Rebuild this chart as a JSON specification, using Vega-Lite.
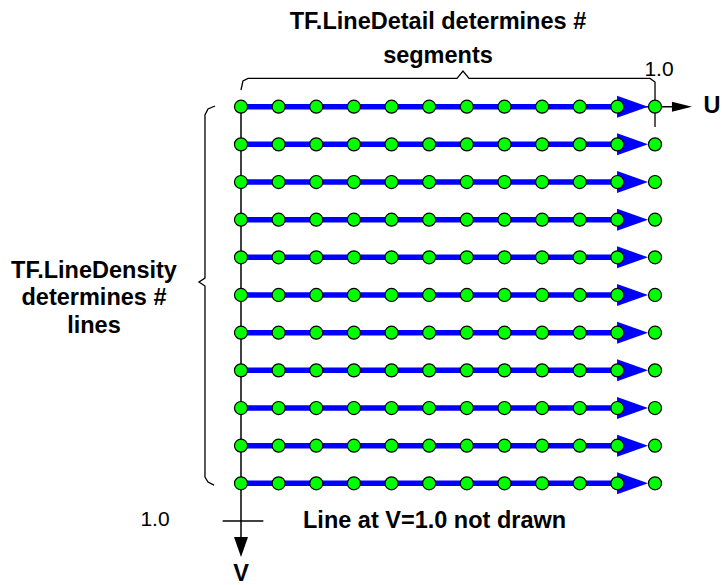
{
  "$schema": "https://vega.github.io/schema/vega-lite/v6.json",
  "width": 722,
  "height": 585,
  "autosize": {"type": "none"},
  "padding": 0,
  "background": "white",
  "config": {"view": {"stroke": null}},
  "datasets": {
    "rows": [
      {"v": 0, "u": [0, 0.0909, 0.1818, 0.2727, 0.3636, 0.4545, 0.5455, 0.6364, 0.7273, 0.8182, 0.9091, 1]},
      {"v": 0.0909, "u": [0, 0.0909, 0.1818, 0.2727, 0.3636, 0.4545, 0.5455, 0.6364, 0.7273, 0.8182, 0.9091, 1]},
      {"v": 0.1818, "u": [0, 0.0909, 0.1818, 0.2727, 0.3636, 0.4545, 0.5455, 0.6364, 0.7273, 0.8182, 0.9091, 1]},
      {"v": 0.2727, "u": [0, 0.0909, 0.1818, 0.2727, 0.3636, 0.4545, 0.5455, 0.6364, 0.7273, 0.8182, 0.9091, 1]},
      {"v": 0.3636, "u": [0, 0.0909, 0.1818, 0.2727, 0.3636, 0.4545, 0.5455, 0.6364, 0.7273, 0.8182, 0.9091, 1]},
      {"v": 0.4545, "u": [0, 0.0909, 0.1818, 0.2727, 0.3636, 0.4545, 0.5455, 0.6364, 0.7273, 0.8182, 0.9091, 1]},
      {"v": 0.5455, "u": [0, 0.0909, 0.1818, 0.2727, 0.3636, 0.4545, 0.5455, 0.6364, 0.7273, 0.8182, 0.9091, 1]},
      {"v": 0.6364, "u": [0, 0.0909, 0.1818, 0.2727, 0.3636, 0.4545, 0.5455, 0.6364, 0.7273, 0.8182, 0.9091, 1]},
      {"v": 0.7273, "u": [0, 0.0909, 0.1818, 0.2727, 0.3636, 0.4545, 0.5455, 0.6364, 0.7273, 0.8182, 0.9091, 1]},
      {"v": 0.8182, "u": [0, 0.0909, 0.1818, 0.2727, 0.3636, 0.4545, 0.5455, 0.6364, 0.7273, 0.8182, 0.9091, 1]},
      {"v": 0.9091, "u": [0, 0.0909, 0.1818, 0.2727, 0.3636, 0.4545, 0.5455, 0.6364, 0.7273, 0.8182, 0.9091, 1]}
    ],
    "braces": [
      {"id": "top", "o": 0, "u": 0, "v": -0.0403},
      {"id": "top", "o": 1, "u": 0.0048, "v": -0.0621},
      {"id": "top", "o": 2, "u": 0.0169, "v": -0.0681},
      {"id": "top", "o": 3, "u": 0.5217, "v": -0.0681},
      {"id": "top", "o": 4, "u": 0.5362, "v": -0.0862},
      {"id": "top", "o": 5, "u": 0.5507, "v": -0.0681},
      {"id": "top", "o": 6, "u": 0.9879, "v": -0.0681},
      {"id": "top", "o": 7, "u": 1.0, "v": -0.0596},
      {"id": "top", "o": 8, "u": 1.0, "v": 0.049},
      {"id": "left", "o": 0, "u": -0.0628, "v": -0.0017},
      {"id": "left", "o": 1, "u": -0.0797, "v": 0.0055},
      {"id": "left", "o": 2, "u": -0.087, "v": 0.02},
      {"id": "left", "o": 3, "u": -0.087, "v": 0.4137},
      {"id": "left", "o": 4, "u": -0.1014, "v": 0.4233},
      {"id": "left", "o": 5, "u": -0.087, "v": 0.433},
      {"id": "left", "o": 6, "u": -0.087, "v": 0.894},
      {"id": "left", "o": 7, "u": -0.0797, "v": 0.906},
      {"id": "left", "o": 8, "u": -0.0652, "v": 0.9133}
    ],
    "axes": [
      {"name": "U axis", "u1": 0, "v1": 0, "u2": 1.041, "v2": 0},
      {"name": "V axis", "u1": 0, "v1": 0, "u2": 0, "v2": 1.0386},
      {"name": "V tick", "u1": -0.0442, "v1": 1, "u2": 0.054, "v2": 1}
    ],
    "uarrow": [{"u": 1.065, "v": 0}],
    "varrow": [{"u": 0, "v": 1.0628}],
    "boldCenter": [
      {"t": "TF.LineDetail determines #", "u": 0.4758, "v": -0.2044},
      {"t": "segments", "u": 0.4758, "v": -0.1224},
      {"t": "U", "u": 1.1377, "v": -0.0017},
      {"t": "TF.LineDensity", "u": -0.3551, "v": 0.3966},
      {"t": "determines #", "u": -0.3551, "v": 0.4617},
      {"t": "lines", "u": -0.3551, "v": 0.5293},
      {"t": "V", "u": 0, "v": 1.128}
    ],
    "boldLeft": [
      {"t": "Line at V=1.0 not drawn", "u": 0.1498, "v": 1.0}
    ],
    "regular": [
      {"t": "1.0", "u": 1.0097, "v": -0.0886},
      {"t": "1.0", "u": -0.2077, "v": 0.9976}
    ]
  },
  "layer": [
    {
      "data": {"name": "braces"},
      "mark": {"type": "line", "color": "black", "strokeWidth": 1.3, "interpolate": "linear"},
      "encoding": {
        "x": {"field": "u", "type": "quantitative", "scale": {"domain": [-0.5821, 1.1618], "nice": false, "zero": false}, "axis": null},
        "y": {"field": "v", "type": "quantitative", "scale": {"domain": [-0.2575, 1.1545], "nice": false, "zero": false, "reverse": true}, "axis": null},
        "detail": {"field": "id"},
        "order": {"field": "o"}
      }
    },
    {
      "data": {"name": "axes"},
      "mark": {"type": "rule", "color": "black", "strokeWidth": 1.5},
      "encoding": {
        "x": {"field": "u1", "type": "quantitative", "scale": {"domain": [-0.5821, 1.1618], "nice": false, "zero": false}, "axis": null},
        "y": {"field": "v1", "type": "quantitative", "scale": {"domain": [-0.2575, 1.1545], "nice": false, "zero": false, "reverse": true}, "axis": null},
        "x2": {"field": "u2"},
        "y2": {"field": "v2"}
      }
    },
    {
      "data": {"name": "rows"},
      "mark": {"type": "rule", "color": "#0000ff", "strokeWidth": 5.5},
      "encoding": {
        "x": {"datum": 0, "type": "quantitative", "scale": {"domain": [-0.5821, 1.1618], "nice": false, "zero": false}, "axis": null},
        "x2": {"datum": 0.925},
        "y": {"field": "v", "type": "quantitative", "scale": {"domain": [-0.2575, 1.1545], "nice": false, "zero": false, "reverse": true}, "axis": null}
      }
    },
    {
      "data": {"name": "rows"},
      "mark": {"type": "point", "shape": "M-1,-0.71L1,0L-1,0.71Z", "filled": true, "fill": "#0000ff", "opacity": 1, "strokeWidth": 0, "size": 961},
      "encoding": {
        "x": {"datum": 0.9457, "type": "quantitative", "scale": {"domain": [-0.5821, 1.1618], "nice": false, "zero": false}, "axis": null},
        "y": {"field": "v", "type": "quantitative", "scale": {"domain": [-0.2575, 1.1545], "nice": false, "zero": false, "reverse": true}, "axis": null}
      }
    },
    {
      "data": {"name": "rows"},
      "transform": [{"flatten": ["u"]}],
      "mark": {"type": "point", "shape": "circle", "filled": true, "fill": "#00ff00", "stroke": "black", "strokeWidth": 1.2, "opacity": 1, "size": 170},
      "encoding": {
        "x": {"field": "u", "type": "quantitative", "scale": {"domain": [-0.5821, 1.1618], "nice": false, "zero": false}, "axis": null},
        "y": {"field": "v", "type": "quantitative", "scale": {"domain": [-0.2575, 1.1545], "nice": false, "zero": false, "reverse": true}, "axis": null}
      }
    },
    {
      "data": {"name": "uarrow"},
      "mark": {"type": "point", "shape": "M-1,-0.5L1,0L-1,0.5Z", "filled": true, "fill": "black", "opacity": 1, "strokeWidth": 0, "size": 400},
      "encoding": {
        "x": {"field": "u", "type": "quantitative", "scale": {"domain": [-0.5821, 1.1618], "nice": false, "zero": false}, "axis": null},
        "y": {"field": "v", "type": "quantitative", "scale": {"domain": [-0.2575, 1.1545], "nice": false, "zero": false, "reverse": true}, "axis": null}
      }
    },
    {
      "data": {"name": "varrow"},
      "mark": {"type": "point", "shape": "M-0.7,-1L0.7,-1L0,1Z", "filled": true, "fill": "black", "opacity": 1, "strokeWidth": 0, "size": 400},
      "encoding": {
        "x": {"field": "u", "type": "quantitative", "scale": {"domain": [-0.5821, 1.1618], "nice": false, "zero": false}, "axis": null},
        "y": {"field": "v", "type": "quantitative", "scale": {"domain": [-0.2575, 1.1545], "nice": false, "zero": false, "reverse": true}, "axis": null}
      }
    },
    {
      "data": {"name": "boldCenter"},
      "mark": {"type": "text", "font": "Liberation Sans", "fontWeight": "bold", "fontSize": 23.5, "align": "center", "baseline": "middle", "color": "black"},
      "encoding": {
        "x": {"field": "u", "type": "quantitative", "scale": {"domain": [-0.5821, 1.1618], "nice": false, "zero": false}, "axis": null},
        "y": {"field": "v", "type": "quantitative", "scale": {"domain": [-0.2575, 1.1545], "nice": false, "zero": false, "reverse": true}, "axis": null},
        "text": {"field": "t"}
      }
    },
    {
      "data": {"name": "boldLeft"},
      "mark": {"type": "text", "font": "Liberation Sans", "fontWeight": "bold", "fontSize": 23.5, "align": "left", "baseline": "middle", "color": "black"},
      "encoding": {
        "x": {"field": "u", "type": "quantitative", "scale": {"domain": [-0.5821, 1.1618], "nice": false, "zero": false}, "axis": null},
        "y": {"field": "v", "type": "quantitative", "scale": {"domain": [-0.2575, 1.1545], "nice": false, "zero": false, "reverse": true}, "axis": null},
        "text": {"field": "t"}
      }
    },
    {
      "data": {"name": "regular"},
      "mark": {"type": "text", "font": "Liberation Sans", "fontSize": 21, "align": "center", "baseline": "middle", "color": "black"},
      "encoding": {
        "x": {"field": "u", "type": "quantitative", "scale": {"domain": [-0.5821, 1.1618], "nice": false, "zero": false}, "axis": null},
        "y": {"field": "v", "type": "quantitative", "scale": {"domain": [-0.2575, 1.1545], "nice": false, "zero": false, "reverse": true}, "axis": null},
        "text": {"field": "t"}
      }
    }
  ]
}
